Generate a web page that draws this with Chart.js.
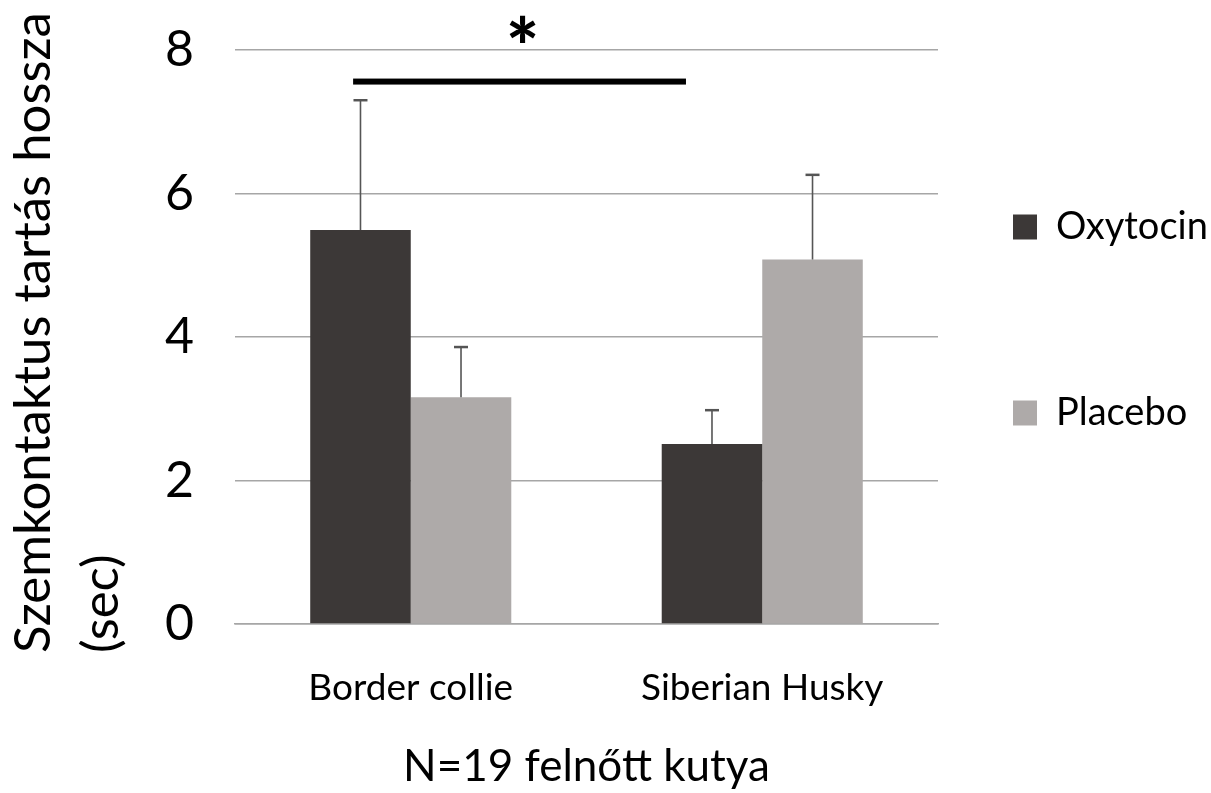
<!DOCTYPE html>
<html>
<head>
<meta charset="utf-8">
<script src="https://cdn.jsdelivr.net/npm/chart.js@4"></script>
<style>
  html, body { margin: 0; padding: 0; background: #ffffff; }
  canvas { display: block; }
</style>
</head>
<body>
<canvas id="c" width="1211" height="793"></canvas>
<script>
// ---- data ----
const categories = ['Border collie', 'Siberian Husky'];
const seriesNames = ['Oxytocin', 'Placebo'];
const oxytocinValues = [5.49, 2.51];
const placeboValues = [3.16, 5.08];
const oxytocinErrors = [1.81, 0.47];
const placeboErrors = [0.70, 1.18];
const yTicks = [0, 2, 4, 6, 8];
const yTitleLines = ['Szemkontaktus tartás hossza', '(sec)'];
const xTitle = 'N=19 felnőtt kutya';
const significanceMark = '*';
const significanceLevel = 7.56;

// ---- styles ----
const FONT = 'Lato';
const DARK = '#3c3837';
const LIGHT = '#aeaaa9';
const GRID = '#a6a6a6';

Chart.defaults.font.family = FONT;
Chart.defaults.color = '#000';

const errorBarPlugin = {
  id: 'errorBars',
  afterDatasetsDraw(chart) {
    const ctx = chart.ctx, ys = chart.scales.y;
    chart.data.datasets.forEach((ds, di) => {
      const meta = chart.getDatasetMeta(di);
      meta.data.forEach((bar, i) => {
        const v = ds.data[i], e = ds.errors[i];
        const x = bar.x, y0 = ys.getPixelForValue(v), y1 = ys.getPixelForValue(v + e);
        ctx.save();
        ctx.strokeStyle = '#555';
        ctx.lineWidth = 1.6;
        ctx.beginPath(); ctx.moveTo(x, y0); ctx.lineTo(x, y1); ctx.stroke();
        ctx.lineWidth = 2.5;
        ctx.beginPath(); ctx.moveTo(x - 7, y1); ctx.lineTo(x + 7, y1); ctx.stroke();
        ctx.restore();
      });
    });
  }
};

const annotationPlugin = {
  id: 'sigAnnot',
  afterDraw(chart) {
    const ctx = chart.ctx, xs = chart.scales.x, ys = chart.scales.y;
    // significance bar
    const xl = xs.getPixelForValue(-0.164), xr = xs.getPixelForValue(0.783);
    const yb = ys.getPixelForValue(significanceLevel);
    ctx.save();
    ctx.fillStyle = '#000';
    ctx.fillRect(xl, yb - 3, xr - xl, 6);
    // asterisk
    ctx.font = '900 78px ' + FONT;
    ctx.textAlign = 'center';
    ctx.textBaseline = 'alphabetic';
    const m = ctx.measureText(significanceMark);
    const inkMid = (m.actualBoundingBoxAscent - m.actualBoundingBoxDescent) / 2;
    const ax = xs.getPixelForValue(0.318), ay = ys.getPixelForValue(8.29);
    ctx.fillText(significanceMark, ax, ay + inkMid);
    // y title (two lines, rotated)
    let size = 50;
    ctx.font = size + 'px ' + FONT;
    const w = ctx.measureText(yTitleLines[0]).width;
    size = size * 641 / w;
    ctx.font = size + 'px ' + FONT;
    ctx.textAlign = 'left';
    const baselines = [50, 118];
    yTitleLines.forEach((line, i) => {
      ctx.save();
      ctx.translate(baselines[i], 653);
      ctx.rotate(-Math.PI / 2);
      ctx.fillText(line, 0, 0);
      ctx.restore();
    });
    ctx.restore();
  }
};

const legendShift = {
  id: 'legendShift',
  afterLayout(chart) {
    const lg = chart.legend;
    if (!lg) return;
    const pad = lg.options.labels.padding;
    const h = lg.height;
    lg.left = 1013 - pad; lg.right = chart.width;
    lg.top = 208 - pad; lg.bottom = lg.top + h;
  }
};

new Chart(document.getElementById('c'), {
  type: 'bar',
  data: {
    labels: categories,
    datasets: [
      { label: seriesNames[0], data: oxytocinValues, errors: oxytocinErrors, backgroundColor: DARK, borderWidth: 0 },
      { label: seriesNames[1], data: placeboValues, errors: placeboErrors, backgroundColor: LIGHT, borderWidth: 0 }
    ]
  },
  options: {
    responsive: false,
    animation: false,
    layout: { padding: { top: 50, left: 0, right: 0, bottom: 0 } },
    datasets: { bar: { categoryPercentage: 0.572, barPercentage: 1.0 } },
    plugins: {
      tooltip: { enabled: false },
      legend: {
        position: 'right',
        align: 'start',
        maxWidth: 273,
        labels: { boxWidth: 24, boxHeight: 25, padding: 148, font: { size: 38 }, color: '#000' }
      }
    },
    scales: {
      x: {
        grid: { display: false, drawTicks: false },
        border: { display: true, color: GRID, width: 1.5 },
        ticks: { font: { size: 37 }, color: '#000', padding: 42 },
        title: { display: true, text: xTitle, font: { size: 44 }, color: '#000', padding: { top: 0, bottom: 0 } },
        afterFit(s) { s.height = 169; }
      },
      y: {
        min: 0, max: 8,
        afterBuildTicks(s) { s.ticks = yTicks.map(v => ({ value: v })); },
        grid: { color: GRID, lineWidth: 1.5, drawTicks: true, tickLength: 41, tickColor: 'rgba(0,0,0,0)' },
        border: { display: false },
        ticks: { font: { size: 50 }, color: '#000', padding: 0 },
        afterFit(s) { s.width = 235; }
      }
    }
  },
  plugins: [errorBarPlugin, annotationPlugin, legendShift]
});
</script>
</body>
</html>
